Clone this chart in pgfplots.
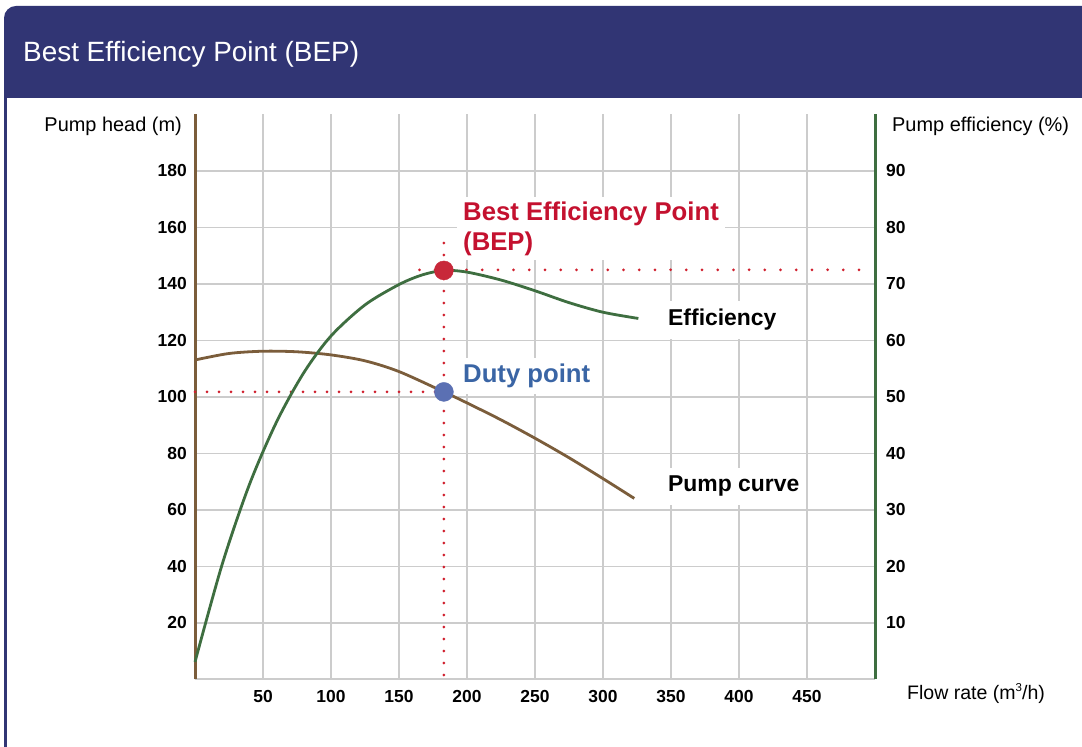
\documentclass[border=0pt]{standalone}
\usepackage{pgfplots}
\pgfplotsset{compat=1.18}
\usepackage{fontspec}
\setmainfont{Liberation Sans}
\definecolor{navy}{HTML}{313574}
\definecolor{pumpbrown}{HTML}{7B5D3B}
\definecolor{effgreen}{HTML}{3E6E40}
\definecolor{gridgray}{HTML}{CCCCCC}
\definecolor{dotred}{HTML}{D0202E}
\definecolor{bepred}{HTML}{C8283A}
\definecolor{bepredtext}{HTML}{C4112F}
\definecolor{dutyblue}{HTML}{5B70B3}
\definecolor{dutybluetext}{HTML}{3A65A5}
\pgfplotsset{
  tickfont/.style={font=\fontsize{17.5}{17.5}\selectfont\bfseries},
  reddots/.style={draw=dotred, line width=3bp, line cap=round, dash pattern=on 0bp off 12bp},
}
\begin{document}
\begin{tikzpicture}[x=1bp,y=1bp]
\useasboundingbox (0,0) rectangle (1082,747);
\begin{scope}
\clip (0,0) rectangle (1082,747);
\fill[navy, rounded corners=12bp] (4,600) rectangle (1110,741);
\fill[white] (6.5,-10) rectangle (1110,649);
\draw[navy, line width=2.5bp] (5.25,660) -- (5.25,-10);
\end{scope}
\node[anchor=base west, inner sep=0pt, text=white, font=\fontsize{28}{28}\selectfont] at (23,685) {Best Efficiency Point (BEP)};

\begin{axis}[
  at={(195bp,67.5bp)}, anchor=south west, scale only axis,
  width=680bp, height=565bp,
  xmin=0, xmax=500, ymin=0, ymax=200,
  axis x line*=bottom, axis y line*=left,
  axis line style={-},
  x axis line style={draw=gridgray, line width=2bp},
  y axis line style={draw=pumpbrown, line width=3bp},
  xtick={50,100,...,450}, ytick={20,40,...,180},
  major tick length=0pt,
  grid=major, major grid style={draw=gridgray, line width=1.5bp},
  xticklabel style={tickfont, anchor=center, yshift=-17bp},
  yticklabel style={tickfont, anchor=east, inner sep=0pt, xshift=-8bp},
  /pgf/number format/assume math mode=true,
  clip=false,
]
\addplot[reddots] coordinates {(0,101.8) (183,101.8)};
\addplot[reddots] coordinates {(183,154.5) (183,0)};
\addplot[reddots, dash pattern=on 0bp off 15.7bp] coordinates {(165,145) (495,145)};
\addplot[pumpbrown, line width=2.8bp, smooth] coordinates {
(0,113.1)(25,115.4)(50,116.2)(75,116.0)(100,114.9)(125,112.8)(150,109.0)
(183,101.8)(200,97.9)(225,91.9)(250,85.4)(275,78.5)(300,71.1)(323,64.1)};
\addplot[only marks, mark=*, mark size=9.5bp, mark options={fill=dutyblue, draw=dutyblue}] coordinates {(183,101.8)};
\end{axis}

\begin{axis}[
  at={(195bp,67.5bp)}, anchor=south west, scale only axis,
  width=680bp, height=565bp,
  xmin=0, xmax=500, ymin=0, ymax=100,
  axis x line=none, axis y line*=right,
  axis line style={-},
  y axis line style={draw=effgreen, line width=3bp},
  ytick={10,20,...,90},
  major tick length=0pt,
  yticklabel style={tickfont, anchor=west, inner sep=0pt, xshift=11bp},
  /pgf/number format/assume math mode=true,
  clip=false,
]
\addplot[effgreen, line width=2.8bp, smooth] coordinates {
(0,3.1)(20,20.4)(40,34.5)(60,45.6)(80,54.3)(100,60.8)(125,66.3)(150,69.9)
(167,71.6)(183,72.4)(200,72.1)(225,70.7)(250,68.8)(275,66.7)(300,65.0)(326,63.9)};
\addplot[only marks, mark=*, mark size=9.5bp, mark options={fill=bepred, draw=bepred}] coordinates {(183,72.4)};
\end{axis}

% axis titles
\node[anchor=base east, inner sep=0pt, font=\fontsize{20}{20}\selectfont] at (182,615) {Pump head (m)};
\node[anchor=base west, inner sep=0pt, font=\fontsize{20}{20}\selectfont] at (892,615) {Pump efficiency (\%)};
\node[anchor=base west, inner sep=0pt, font=\fontsize{19.6}{19.6}\selectfont] at (907,47) {Flow rate (m\raisebox{0.42em}{\fontsize{11.5}{11.5}\selectfont 3}/h)};

% series labels
\node[anchor=base west, fill=white, inner xsep=6bp, inner ysep=8bp, font=\fontsize{23}{23}\selectfont\bfseries] at (662,421) {Efficiency};
\node[anchor=base west, fill=white, inner xsep=6bp, inner ysep=8bp, font=\fontsize{23}{23}\selectfont\bfseries] at (662,255) {Pump curve};
\node[anchor=base west, fill=white, inner xsep=6bp, inner ysep=6bp, text=dutybluetext, font=\fontsize{25.8}{25.8}\selectfont\bfseries] at (457,364) {Duty point};
\node[anchor=base west, fill=white, inner xsep=6bp, inner ysep=4bp, align=left, text=bepredtext, font=\fontsize{25.8}{31}\selectfont\bfseries] at (457,496) {Best Efficiency Point\\(BEP)};
\end{tikzpicture}
\end{document}
